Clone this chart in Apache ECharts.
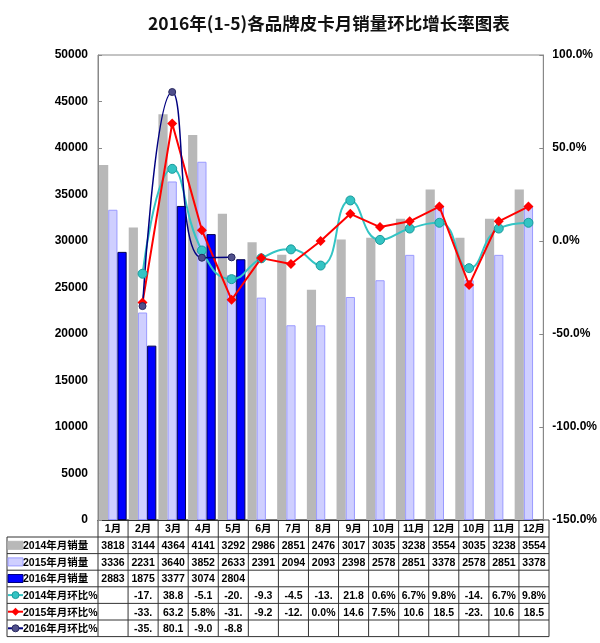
<!DOCTYPE html>
<html>
<head>
<meta charset="utf-8">
<script src="https://cdn.jsdelivr.net/npm/echarts@6/dist/echarts.min.js"></script>
<style>
  html, body { margin: 0; padding: 0; background: #fff; }
  #main { width: 600px; height: 643px; }
</style>
</head>
<body>
<div id="main"></div>
<script>
// 数据
var months = ['1月', '2月', '3月', '4月', '5月', '6月', '7月', '8月', '9月', '10月', '11月', '12月', '10月', '11月', '12月'];
var sales2014 = [38180, 31440, 43640, 41410, 32920, 29860, 28510, 24760, 30170, 30350, 32380, 35540, 30350, 32380, 35540];
var sales2015 = [33360, 22310, 36400, 38520, 26330, 23910, 20940, 20930, 23980, 25780, 28510, 33780, 25780, 28510, 33780];
var sales2016 = [28830, 18750, 33770, 30740, 28040];
var mom2014 = [null, -17.6, 38.8, -5.1, -20.5, -9.3, -4.5, -13.2, 21.8, 0.6, 6.7, 9.8, -14.6, 6.7, 9.8];
var mom2015 = [null, -33.1, 63.2, 5.8, -31.6, -9.2, -12.4, 0.0, 14.6, 7.5, 10.6, 18.5, -23.7, 10.6, 18.5];
var mom2016 = [null, -35.0, 80.1, -9.0, -8.8];
var leftTicks = { min: 0, max: 50000, interval: 5000 };
var rightTicks = { min: -150, max: 100, interval: 50 };

var names = ['2014年月销量', '2015年月销量', '2016年月销量', '2014年月环比%', '2015年月环比%', '2016年月环比%'];
var colors = {
    gray: '#b8b8b8',
    lilac: 'rgba(160,160,255,0.5)',
    blue: '#0000ff',
    teal: '#33c4c4',
    red: '#ff0000',
    navy: '#000080'
};

var font = '"Liberation Sans", Arial, "Noto Sans CJK SC", sans-serif';
var gridLeft = 98, gridRight = 549, gridTop = 55, gridBottom = 520;

var myChart = echarts.init(document.getElementById('main'));

function lineData(arr) {
    return arr.map(function (v) { return v == null ? '-' : v; });
}

// 表格
function buildTable() {
    var g = [];
    var n = months.length;
    var colW = (gridRight - gridLeft) / n;
    var rowH = 16.6;
    var headTop = gridBottom, headH = 17;
    var bodyTop = headTop + headH;
    var tableLeft = 7;
    var lineStyle = { stroke: '#333', lineWidth: 1 };
    var txt = { fontSize: 10.5, fontWeight: 'bold', fontFamily: font, fill: '#000' };

    // header cells
    for (var i = 0; i < n; i++) {
        var x = gridLeft + i * colW;
        g.push({ type: 'line', shape: { x1: x, y1: headTop, x2: x, y2: bodyTop + rowH * 6 }, style: lineStyle, silent: true });
        g.push({
            type: 'text', x: x + colW / 2, y: headTop + headH / 2 + 1,
            style: Object.assign({ text: months[i], align: 'center', verticalAlign: 'middle' }, txt), silent: true
        });
    }
    g.push({ type: 'line', shape: { x1: gridRight, y1: headTop, x2: gridRight, y2: bodyTop + rowH * 6 }, style: lineStyle, silent: true });
    g.push({ type: 'line', shape: { x1: tableLeft, y1: bodyTop, x2: tableLeft, y2: bodyTop + rowH * 6 }, style: lineStyle, silent: true });
    g.push({ type: 'line', shape: { x1: gridLeft, y1: headTop, x2: gridRight, y2: headTop }, style: lineStyle, silent: true });

    var rows = [
        { data: sales2014, fmt: function (v) { return String(v).slice(0, 4); } },
        { data: sales2015, fmt: function (v) { return String(v).slice(0, 4); } },
        { data: sales2016, fmt: function (v) { return String(v).slice(0, 4); } },
        { data: mom2014, fmt: function (v) { return (v.toFixed(1) + '%').slice(0, 4); } },
        { data: mom2015, fmt: function (v) { return (v.toFixed(1) + '%').slice(0, 4); } },
        { data: mom2016, fmt: function (v) { return (v.toFixed(1) + '%').slice(0, 4); } }
    ];

    rows.forEach(function (row, r) {
        var y0 = bodyTop + r * rowH;
        var cy = y0 + rowH / 2;
        g.push({ type: 'line', shape: { x1: tableLeft, y1: y0, x2: gridRight, y2: y0 }, style: lineStyle, silent: true });
        // legend symbol
        if (r < 3) {
            var fill = [colors.gray, colors.lilac, colors.blue][r];
            var stroke = ['#b8b8b8', '#9a9aff', '#000080'][r];
            g.push({ type: 'rect', shape: { x: tableLeft + 1, y: cy - 4, width: 15, height: 8 }, style: { fill: fill, stroke: stroke, lineWidth: 1 }, silent: true });
        } else {
            var c = [colors.teal, colors.red, colors.navy][r - 3];
            g.push({ type: 'line', shape: { x1: tableLeft + 1, y1: cy, x2: tableLeft + 16, y2: cy }, style: { stroke: c, lineWidth: 2 }, silent: true });
            if (r === 4) {
                g.push({ type: 'polygon', shape: { points: [[tableLeft + 8.5, cy - 4], [tableLeft + 12.5, cy], [tableLeft + 8.5, cy + 4], [tableLeft + 4.5, cy]] }, style: { fill: c }, silent: true });
            } else {
                g.push({ type: 'circle', shape: { cx: tableLeft + 8.5, cy: cy, r: 3.5 }, style: { fill: r === 3 ? colors.teal : '#50508c', stroke: r === 3 ? '#1a9a9a' : '#2a2a60', lineWidth: 1 }, silent: true });
            }
        }
        g.push({
            type: 'text', x: tableLeft + 16, y: cy + 1,
            style: Object.assign({ text: names[r], align: 'left', verticalAlign: 'middle' }, txt), silent: true
        });
        for (var i = 0; i < n; i++) {
            var v = row.data[i];
            if (v == null) continue;
            g.push({
                type: 'text', x: gridLeft + (i + 0.5) * colW, y: cy + 1,
                style: Object.assign({ text: row.fmt(v), align: 'center', verticalAlign: 'middle' }, txt), silent: true
            });
        }
    });
    g.push({ type: 'line', shape: { x1: tableLeft, y1: bodyTop + rowH * 6, x2: gridRight, y2: bodyTop + rowH * 6 }, style: lineStyle, silent: true });
    return g;
}

var option = {
    backgroundColor: '#fff',
    animation: false,
    title: {
        text: '2016年(1-5)各品牌皮卡月销量环比增长率图表',
        left: 143,
        top: 10,
        textStyle: { fontSize: 17.5, fontWeight: 'bold', color: '#111', fontFamily: '"Noto Sans CJK SC", sans-serif' }
    },
    grid: {
        left: gridLeft, right: 600 - gridRight, top: gridTop, bottom: 643 - gridBottom,
        show: true, borderColor: '#888', borderWidth: 1
    },
    xAxis: {
        type: 'category',
        data: months,
        axisLabel: { show: false },
        axisTick: { show: false },
        axisLine: { lineStyle: { color: '#333' } }
    },
    yAxis: [{
        type: 'value',
        min: leftTicks.min, max: leftTicks.max, interval: leftTicks.interval,
        axisLine: { show: true, lineStyle: { color: '#888' } },
        axisTick: { show: true, inside: true, length: 4, lineStyle: { color: '#888' } },
        splitLine: { show: false },
        axisLabel: {
            color: '#000', fontSize: 12, fontWeight: 'bold', fontFamily: font, margin: 10,
            formatter: function (v) { return String(v); }
        }
    }, {
        type: 'value',
        min: rightTicks.min, max: rightTicks.max, interval: rightTicks.interval,
        axisLine: { show: true, lineStyle: { color: '#888' } },
        axisTick: { show: true, inside: true, length: 4, lineStyle: { color: '#888' } },
        splitLine: { show: false },
        axisLabel: {
            color: '#000', fontSize: 12, fontWeight: 'bold', fontFamily: font, margin: 9,
            formatter: function (v) { return v.toFixed(1) + '%'; }
        }
    }],
    series: [{
        name: names[0], type: 'bar', data: sales2014,
        barWidth: 9.2, barGap: '0%',
        itemStyle: { color: colors.gray }
    }, {
        name: names[1], type: 'bar', data: sales2015,
        barWidth: 9.2,
        itemStyle: { color: colors.lilac, borderColor: '#9a9aff', borderWidth: 1 }
    }, {
        name: names[2], type: 'bar', data: sales2016,
        barWidth: 9.2,
        itemStyle: { color: colors.blue, borderColor: '#000050', borderWidth: 1 }
    }, {
        name: names[3], type: 'line', yAxisIndex: 1, data: lineData(mom2014),
        smooth: 0.5, symbol: 'circle', symbolSize: 9,
        lineStyle: { color: colors.teal, width: 2 },
        itemStyle: { color: colors.teal, borderColor: '#1a9a9a', borderWidth: 1 }
    }, {
        name: names[4], type: 'line', yAxisIndex: 1, data: lineData(mom2015),
        symbol: 'diamond', symbolSize: 10,
        lineStyle: { color: colors.red, width: 2 },
        itemStyle: { color: colors.red }
    }, {
        name: names[5], type: 'line', yAxisIndex: 1, data: lineData(mom2016),
        smooth: 0.5, symbol: 'circle', symbolSize: 7,
        lineStyle: { color: colors.navy, width: 1.5 },
        itemStyle: { color: '#50508c', borderColor: '#2a2a60', borderWidth: 1 }
    }],
    graphic: buildTable()
};

myChart.setOption(option);
</script>
</body>
</html>
